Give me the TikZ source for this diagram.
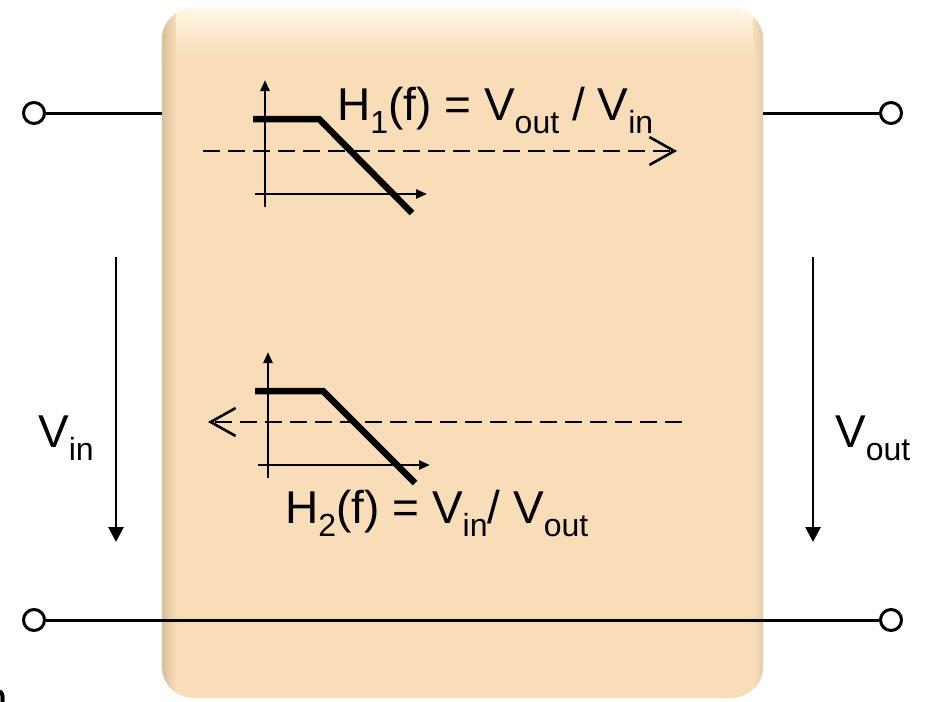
\documentclass[tikz,border=0pt]{standalone}
\usepackage{fontspec}
\setmainfont{Liberation Sans}
\usetikzlibrary{arrows.meta}
\definecolor{boxpeach}{HTML}{F8DDB8}
\definecolor{boxtop}{HTML}{FFF8E6}
\definecolor{boxedge}{HTML}{D9BE9C}
\newcommand{\subtxt}[1]{\raisebox{-13pt}{\fontsize{32}{34}\selectfont #1}}
\tikzset{
  terminal/.style={circle, draw, line width=3pt, fill=white, minimum size=21pt, inner sep=0pt},
  wire/.style={line width=3pt},
  varrow/.style={line width=2.8pt, -{Triangle[length=15pt,width=15pt]}},
  axis/.style={line width=2.6pt, -{Triangle[length=11pt,width=9pt]}},
  curve/.style={line width=6.5pt},
  flow/.style={line width=2.6pt, dash pattern=on 17pt off 8pt, -{Straight Barb[length=25pt,width=28pt]}},
  label/.style={font=\fontsize{46}{50}\selectfont, inner sep=0pt}
}
\begin{document}
\begin{tikzpicture}[x=1pt,y=-1pt]
  \useasboundingbox (0,0) rectangle (925,701);
  % Box
  \node[fill=boxpeach, rounded corners=32pt, minimum width=601pt, minimum height=690pt, inner sep=0pt] (box) at (462.5,353) {};
  \begin{scope}
    \clip[rounded corners=32pt] (box.south west) rectangle (box.north east);
    \shade[top color=boxtop, bottom color=boxpeach] (box.north west) rectangle ([yshift=-50pt]box.north east);
    \shade[left color=boxedge, right color=boxpeach] (box.south west) rectangle ([xshift=14pt]box.north west);
    \shade[right color=boxedge!60!boxpeach, left color=boxpeach] (box.south east) rectangle ([xshift=-10pt]box.north east);
  \end{scope}
  % Terminals
  \node[terminal] (tl) at (34,113) {};
  \node[terminal] (tr) at (891,113) {};
  \node[terminal] (bl) at (34,620) {};
  \node[terminal] (br) at (891,620) {};
  % Wires
  \draw[wire] (tl) -- (tl -| box.west);
  \draw[wire] (tr) -- (tr -| box.east);
  \draw[wire] (bl) -- (br);
  % Voltages
  \coordinate (vinA) at (116,257);
  \coordinate (vinB) at (116,542);
  \coordinate (voutA) at (813,257);
  \coordinate (voutB) at (813,542);
  \draw[varrow] (vinA) -- (vinB);
  \draw[varrow] (voutA) -- (voutB);
  \node[label, anchor=base west] (vin) at (38,447) {V\subtxt{in}};
  \node[label, anchor=base west] (vout) at (835,447) {V\subtxt{out}};
  % Graph H1
  \draw[axis] (265,207) -- (265,80);
  \draw[axis] (255,194) -- (427,194);
  \draw[curve] (253,119) -- (319,119) -- (412,213);
  \draw[flow] (203,151) -- (677,151);
  \node[label, anchor=base west] (h1) at (337,120) {H\subtxt{1}(f) = V\subtxt{out} / V\subtxt{in}};
  % Graph H2
  \draw[axis] (268,478) -- (268,352);
  \draw[axis] (258,465) -- (430,465);
  \draw[curve] (255,391) -- (323,391) -- (415,483);
  \draw[flow] (682,422) -- (208,422);
  \node[label, anchor=base west] (h2) at (285,523) {H\subtxt{2}(f) = V\subtxt{in}/ V\subtxt{out}};
  % Cut-off letter
  \node[label, anchor=base west] (frag) at (-18,714) {n};
\end{tikzpicture}
\end{document}
